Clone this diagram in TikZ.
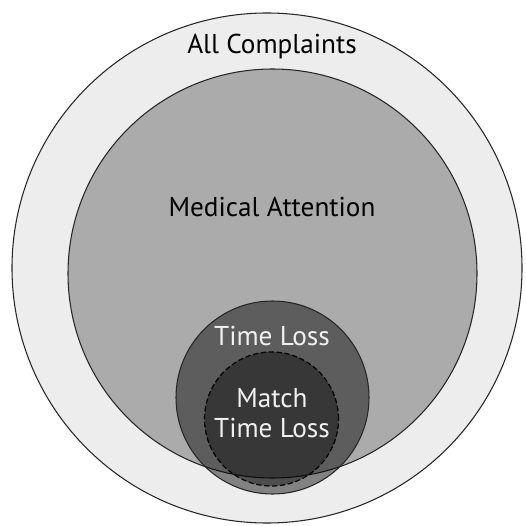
\documentclass[tikz,border=0pt]{standalone}
\usepackage{fontspec}
\setmainfont{PT Sans}
\begin{document}
\begin{tikzpicture}[x=0.02cm,y=-0.02cm,
  ring/.style={draw=black!85,line width=0.6pt},
  darklabel/.style={text=black,font=\fontsize{15.5}{17}\selectfont},
  lightlabel/.style={text=black!6,font=\fontsize{15.5}{17}\selectfont,align=center}]
\useasboundingbox (0,0) rectangle (525,526);
\begin{scope}
\clip (0,0) rectangle (525,526);
\node[ring,circle,fill=black!7,minimum size=510*0.02cm,inner sep=0] (all) at (267,268) {};
\node[ring,circle,fill=black!33,minimum size=409*0.02cm,inner sep=0] (med) at (272.5,273.5) {};
\node[ring,circle,fill=black,fill opacity=0.45,minimum size=193*0.02cm,inner sep=0] (tl) at (272.5,397.5) {};
\node[ring,draw=black,line width=0.7pt,dash pattern=on 3pt off 1.5pt,circle,fill=black,fill opacity=0.4,minimum size=134*0.02cm,inner sep=0] (mtl) at (271.5,419) {};
\end{scope}
\node[darklabel] (tall) at (272,47) {All Complaints};
\node[darklabel] (tmed) at (272,207) {Medical Attention};
\node[lightlabel] (ttl) at (272,336) {Time Loss};
\node[lightlabel] (tmtl) at (272,413) {Match\\Time Loss};
\end{tikzpicture}
\end{document}
